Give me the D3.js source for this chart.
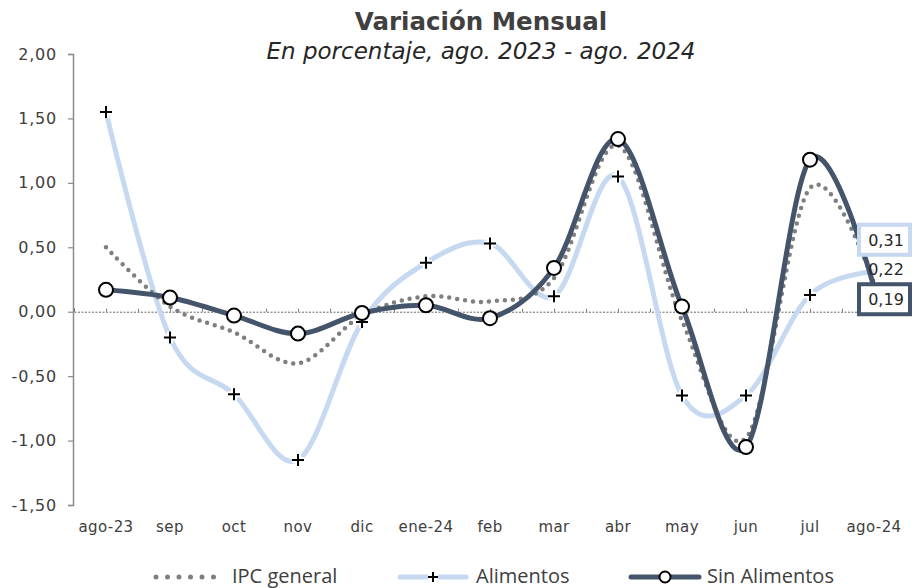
<!DOCTYPE html>
<html>
<head>
<meta charset="utf-8">
<script src="https://cdn.jsdelivr.net/npm/d3@7"></script>
<style>
  body { margin: 0; background: #fff; }
  svg { display: block; font-family: "DejaVu Sans", sans-serif; }
</style>
</head>
<body>
<div id="chart"></div>
<script>
// datos
var months = ["ago-23", "sep", "oct", "nov", "dic", "ene-24", "feb", "mar", "abr", "may", "jun", "jul", "ago-24"];
var ipcGeneral = [0.50, 0.04, -0.16, -0.40, -0.03, 0.12, 0.08, 0.26, 1.29, -0.07, -0.98, 0.96, 0.22];
var alimentos = [1.55, -0.20, -0.64, -1.15, -0.08, 0.38, 0.53, 0.12, 1.05, -0.65, -0.65, 0.13, 0.31];
var sinAlimentos = [0.17, 0.11, -0.03, -0.17, -0.01, 0.05, -0.05, 0.34, 1.34, 0.04, -1.05, 1.18, 0.19];
var yTicks = [-1.5, -1, -0.5, 0, 0.5, 1, 1.5, 2];

var width = 912, height = 588;
var textColor = "#404040";
var cDark = "#44546a", cLight = "#c6d9f1", cGray = "#7f7f7f";

var svg = d3.select("#chart").append("svg")
    .attr("width", width)
    .attr("height", height);

var x = d3.scaleBand().domain(months).range([74, 906]);
var xIdx = d3.scaleLinear().domain([-0.5, months.length - 0.5]).range([74, 906]);
var y = d3.scaleLinear().domain([-1.5, 2]).range([505, 54]);
var fmt = function(v) { return d3.format(".2f")(v).replace(".", ",").replace("\u2212", "-"); };
var cx = function(i) { return x(months[i]) + x.bandwidth() / 2; };

// titulo
svg.append("text")
    .attr("x", 481).attr("y", 30)
    .attr("text-anchor", "middle")
    .attr("font-size", 24.5).attr("font-weight", "bold")
    .attr("fill", textColor)
    .text("Variación Mensual");
svg.append("text")
    .attr("x", 481).attr("y", 59)
    .attr("text-anchor", "middle")
    .attr("font-size", 23).attr("font-style", "italic")
    .attr("fill", "#262626")
    .text("En porcentaje, ago. 2023 - ago. 2024");

// eje Y
var yAxis = svg.append("g")
    .attr("transform", "translate(73,0)")
    .call(d3.axisLeft(y).tickValues(yTicks).tickFormat(fmt).tickSize(5).tickPadding(11));
yAxis.select(".domain").attr("stroke", "#8c8c8c").attr("stroke-width", 1.5);
yAxis.selectAll(".tick line").attr("stroke", "#8c8c8c").attr("stroke-width", 1.2);
yAxis.selectAll(".tick text").attr("font-size", 16).attr("fill", textColor)
    .attr("letter-spacing", 0.8)
    .attr("font-family", "DejaVu Sans, sans-serif");

// linea del cero con marcas
var zeroAxis = svg.append("g")
    .attr("transform", "translate(0," + y(0) + ")")
    .call(d3.axisTop(xIdx).tickValues(d3.range(-0.5, months.length, 0.5)).tickSize(3).tickFormat(""));
zeroAxis.select(".domain").attr("stroke", "#404040").attr("stroke-width", 0.8).attr("stroke-dasharray", "2,1.5");
zeroAxis.selectAll(".tick line").attr("stroke", "#595959").attr("stroke-width", 0.8);

// etiquetas del eje X
svg.append("g").selectAll("text")
    .data(months).enter().append("text")
    .attr("x", function(d) { return x(d) + x.bandwidth() / 2; })
    .attr("y", 532)
    .attr("text-anchor", "middle")
    .attr("font-size", 15).attr("letter-spacing", 0.4).attr("fill", textColor)
    .text(function(d) { return d; });

var line = d3.line()
    .x(function(d, i) { return cx(i); })
    .y(function(d) { return y(d); })
    .curve(d3.curveCardinal.tension(0));

// series
svg.append("path").datum(alimentos)
    .attr("d", line).attr("fill", "none")
    .attr("stroke", cLight).attr("stroke-width", 5);

svg.append("path").datum(ipcGeneral)
    .attr("d", line).attr("fill", "none")
    .attr("stroke", cGray).attr("stroke-width", 4.5)
    .attr("stroke-linecap", "round").attr("stroke-dasharray", "0,8");

svg.append("path").datum(sinAlimentos)
    .attr("d", line).attr("fill", "none")
    .attr("stroke", cDark).attr("stroke-width", 5);

function plus(g, px, py, s) {
    var p = "M" + (px - s) + "," + py + "H" + (px + s) + "M" + px + "," + (py - s) + "V" + (py + s);
    g.append("path").attr("d", p).attr("stroke", "#fff").attr("stroke-width", 6);
    g.append("path").attr("d", p).attr("stroke", "#000").attr("stroke-width", 2);
}

var markers = svg.append("g");
alimentos.slice(0, -1).forEach(function(v, i) { plus(markers, cx(i), y(v), 6); });
markers.selectAll("circle")
    .data(sinAlimentos.slice(0, -1)).enter().append("circle")
    .attr("cx", function(d, i) { return cx(i); })
    .attr("cy", function(d) { return y(d); })
    .attr("r", 7)
    .attr("fill", "#fff").attr("stroke", "#000").attr("stroke-width", 2);

// etiquetas finales
var last = months.length - 1;
var lx = 886;
function endLabel(v, dy, border) {
    var ty = y(v) + dy;
    if (border) {
        svg.append("rect")
            .attr("x", 859).attr("y", ty - 15).attr("width", 51).attr("height", 30)
            .attr("fill", "#fff").attr("stroke", border).attr("stroke-width", 4);
    }
    svg.append("text")
        .attr("x", lx).attr("y", ty + 6)
        .attr("text-anchor", "middle")
        .attr("font-size", 16).attr("fill", "#262626")
        .text(fmt(v));
}
endLabel(alimentos[last], -32, cLight);
endLabel(ipcGeneral[last], -14, null);
endLabel(sinAlimentos[last], 12, cDark);

// leyenda
var legFont = "Open Sans, sans-serif";
var leg = svg.append("g").attr("transform", "translate(0,577)");
leg.append("line").attr("x1", 156).attr("x2", 225).attr("y1", 0).attr("y2", 0)
    .attr("stroke", cGray).attr("stroke-width", 5)
    .attr("stroke-linecap", "round").attr("stroke-dasharray", "0,11.5");
leg.append("text").attr("x", 232).attr("y", 6).attr("font-size", 20).attr("font-family", legFont)
    .attr("fill", textColor).text("IPC general");

leg.append("line").attr("x1", 400).attr("x2", 466).attr("y1", 0).attr("y2", 0)
    .attr("stroke", cLight).attr("stroke-width", 5).attr("stroke-linecap", "round");
plus(leg, 433, 0, 5);
leg.append("text").attr("x", 476).attr("y", 6).attr("font-size", 20).attr("font-family", legFont)
    .attr("fill", textColor).text("Alimentos");

leg.append("line").attr("x1", 631).attr("x2", 699).attr("y1", 0).attr("y2", 0)
    .attr("stroke", cDark).attr("stroke-width", 5).attr("stroke-linecap", "round");
leg.append("circle").attr("cx", 665).attr("cy", 0).attr("r", 5.5)
    .attr("fill", "#fff").attr("stroke", "#000").attr("stroke-width", 2);
leg.append("text").attr("x", 707).attr("y", 6).attr("font-size", 20).attr("font-family", legFont)
    .attr("fill", textColor).text("Sin Alimentos");
</script>
</body>
</html>
